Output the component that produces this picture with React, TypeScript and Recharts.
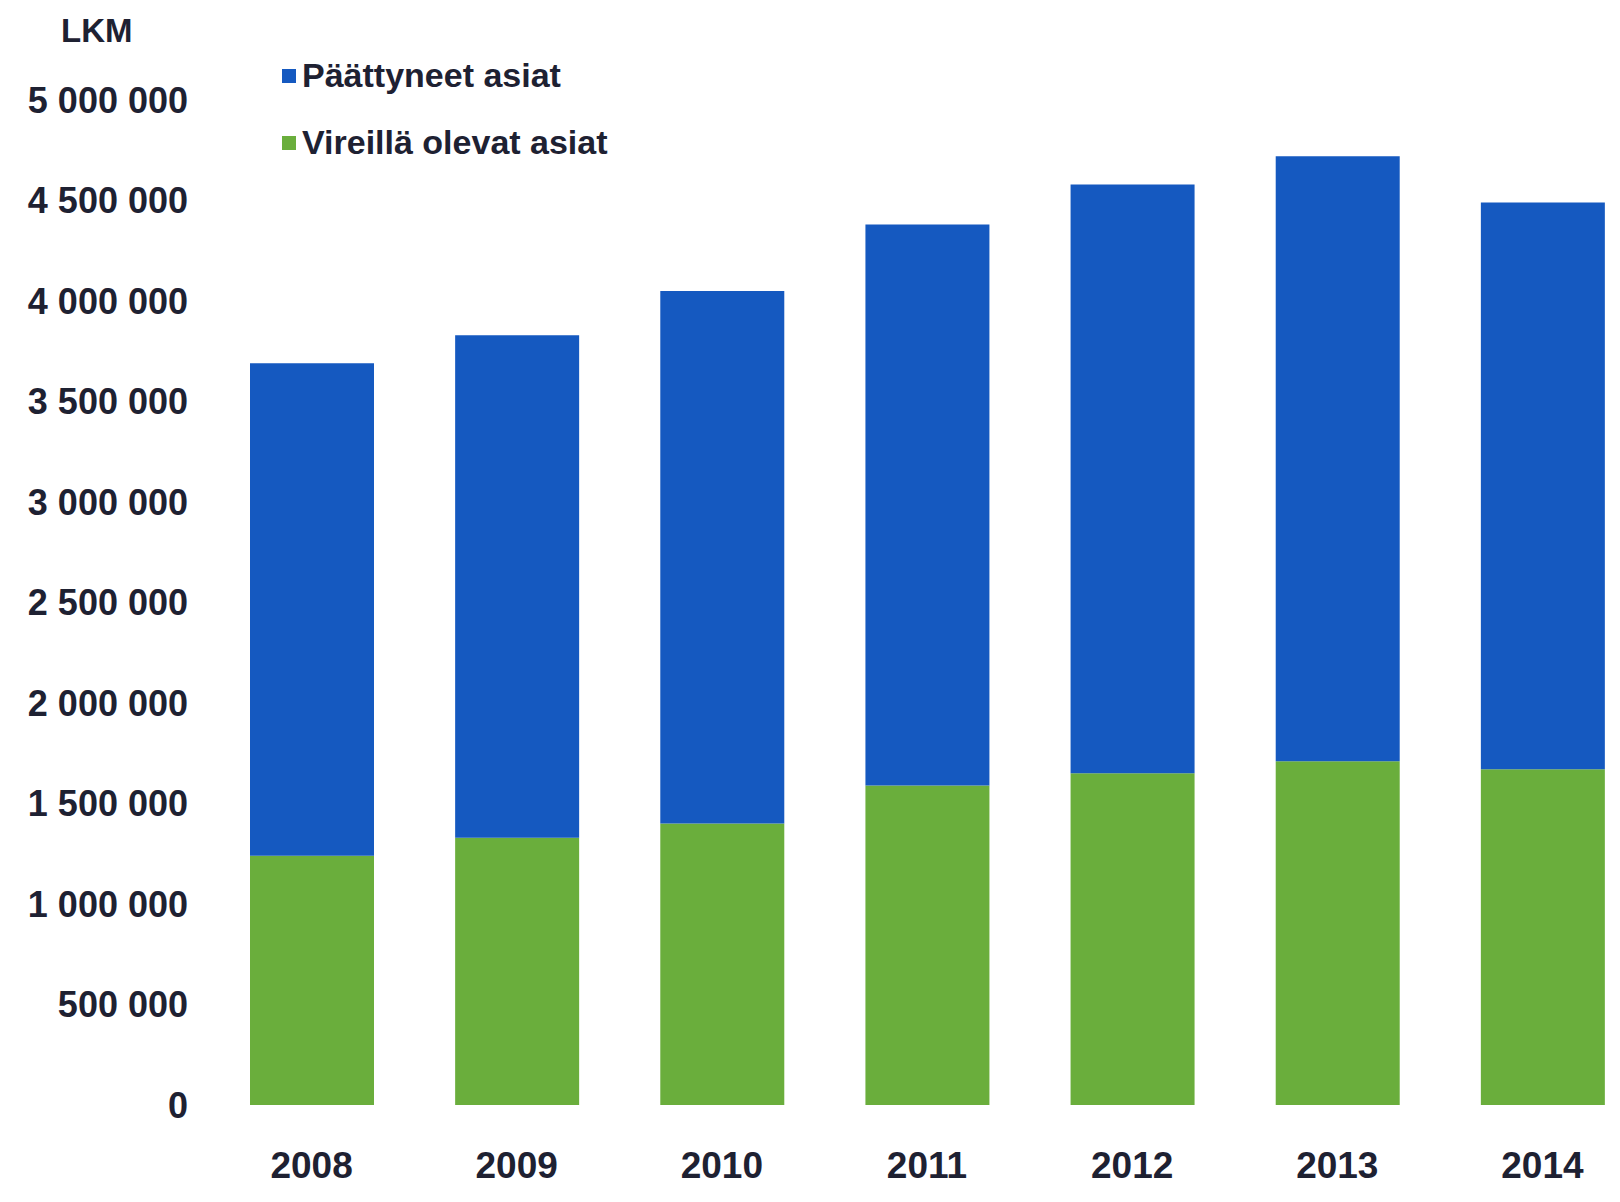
import React from 'react';
import { BarChart, Bar, XAxis, YAxis } from 'recharts';

const years = ['2008', '2009', '2010', '2011', '2012', '2013', '2014'];
const pending = [1240000, 1330000, 1400000, 1590000, 1650000, 1710000, 1670000];
const closed = [2450000, 2500000, 2650000, 2790000, 2930000, 3010000, 2820000];
const yTicks = [0, 500000, 1000000, 1500000, 2000000, 2500000, 3000000, 3500000, 4000000, 4500000, 5000000];

const BLUE = '#1559c0';
const GREEN = '#6aae3c';
const TEXT = '#1e2132';
const FONT = '"Liberation Sans", Arial, sans-serif';

const series = [
    { key: 'closed', name: 'Päättyneet asiat', color: BLUE },
    { key: 'pending', name: 'Vireillä olevat asiat', color: GREEN },
];

const data = years.map((year, i) => ({ year, pending: pending[i], closed: closed[i] }));

const fmt = (v: number) => String(v).replace(/\B(?=(\d{3})+(?!\d))/g, ' ');

export default function App() {
    return (
        <div style={{ position: 'absolute', left: 0, top: 0, width: 1620, height: 1202, overflow: 'hidden', background: '#fff' }}>
            <div style={{ position: 'absolute', left: 61, top: 12, fontFamily: FONT, fontWeight: 700, fontSize: 33, color: TEXT }}>
                LKM
            </div>
            <div style={{ position: 'absolute', left: 282, top: 42, fontFamily: FONT, fontWeight: 700, fontSize: 34, color: TEXT }}>
                {series.map((s) => (
                    <div key={s.key} style={{ display: 'flex', alignItems: 'center', height: 67 }}>
                        <span style={{ width: 14, height: 14, background: s.color, marginRight: 6, display: 'inline-block' }} />
                        <span>{s.name}</span>
                    </div>
                ))}
            </div>
            <BarChart width={1650} height={1202} data={data} margin={{ top: 100, right: 5, bottom: 17, left: 0 }} barSize={124}>
                <XAxis
                    dataKey="year"
                    axisLine={false}
                    tickLine={false}
                    height={80}
                    tickMargin={41}
                    tick={{ fontSize: 37, fontWeight: 700, fill: TEXT, fontFamily: FONT }}
                />
                <YAxis
                    domain={[0, 5000000]}
                    ticks={yTicks}
                    interval={0}
                    width={209}
                    axisLine={false}
                    tickLine={false}
                    tickMargin={15}
                    tickFormatter={fmt}
                    tick={{ fontSize: 36, fontWeight: 700, fill: TEXT, fontFamily: FONT }}
                />
                <Bar dataKey="pending" name="Vireillä olevat asiat" stackId="a" fill={GREEN} isAnimationActive={false} />
                <Bar dataKey="closed" name="Päättyneet asiat" stackId="a" fill={BLUE} isAnimationActive={false} />
            </BarChart>
        </div>
    );
}
